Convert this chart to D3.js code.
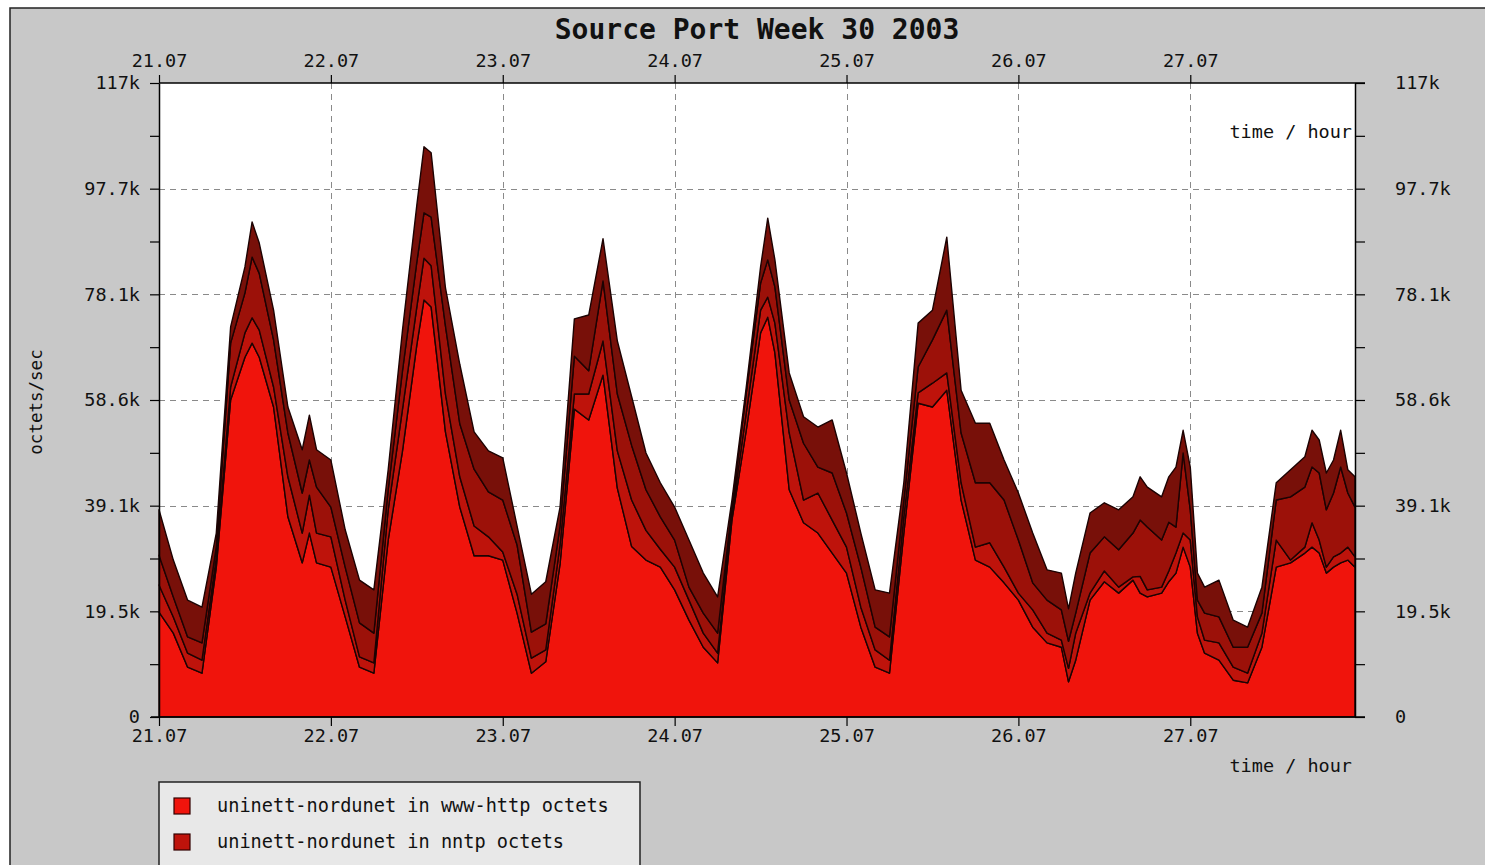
<!DOCTYPE html>
<html>
<head>
<meta charset="utf-8">
<script src="https://cdn.jsdelivr.net/npm/d3@7"></script>
<style>
html,body{margin:0;padding:0;background:#fff;}
svg{display:block;}
text{font-family:"DejaVu Sans Mono",monospace;fill:#111;}
</style>
</head>
<body>
<svg id="chart" width="1485" height="865"></svg>
<script>
// ---- data (octets/sec, in thousands) ----
const hours = [0,2,4,6,8,10,12,13,14,16,18,20,21,22,24,26,28,30,32,34,36,37,38,40,42,44,46,48,50,52,54,56,58,60,62,64,66,68,70,72,74,76,78,80,82,84,85,86,88,90,92,94,96,98,100,102,104,106,108,110,112,114,116,118,120,122,124,126,127,128,130,132,134,136,137,138,140,141,142,143,144,145,146,148,150,152,154,156,158,160,161,162,163,164,165,166,167];
const wwwHttp = [19.4,15.5,9.2,8.1,27.7,58.6,66.5,69.1,66.5,57.3,37.0,28.5,34.0,28.5,27.7,18.5,9.2,8.1,32.7,49.2,68.8,77.1,75.8,52.7,38.8,29.8,29.8,29.0,19.2,8.1,10.2,28.3,56.9,54.9,63.2,42.3,31.5,29.0,27.7,23.5,17.9,12.9,10.0,36.4,53.0,71.0,73.9,67.3,42.0,35.9,34.0,30.3,26.6,16.6,9.2,8.1,34.0,58.0,57.3,60.4,40.1,29.0,27.7,24.8,21.6,16.6,13.7,12.9,6.5,10.5,21.6,25.0,22.9,25.3,22.9,22.2,22.9,25.0,26.6,31.4,27.7,15.5,11.8,10.5,6.8,6.3,12.9,27.7,28.5,30.3,31.4,30.3,26.6,27.7,28.5,29.0,27.7];
const nntp = [5.0,3.0,2.6,2.4,1.8,2.4,4.5,4.7,5.0,3.7,7.4,5.5,7.0,5.5,5.6,3.1,1.9,1.9,5.6,7.7,7.0,7.7,7.6,7.0,5.6,5.5,3.5,1.5,3.5,2.8,2.2,3.5,2.8,4.8,6.3,6.9,8.6,5.5,3.3,4.2,3.7,2.6,1.8,1.1,3.2,4.2,3.7,5.5,10.5,4.2,7.4,6.1,4.8,3.7,3.2,2.4,3.0,1.9,4.4,3.2,3.2,2.4,4.5,2.9,1.3,3.2,1.8,1.3,2.5,5.0,1.3,2.0,1.1,0.6,3.1,1.3,1.1,2.0,3.7,2.6,5.0,3.0,2.4,3.2,2.4,1.8,2.6,5.0,0.5,1.1,4.5,2.4,1.1,1.9,1.8,2.4,1.9];
const thirdSeries = [5.5,3.7,3.0,3.2,2.0,8.1,7.4,11.2,10.5,8.7,8.1,7.4,6.5,8.5,5.5,6.1,6.3,5.5,3.7,7.1,8.3,8.4,9.0,12.6,9.8,10.5,8.3,9.6,9.1,4.8,4.8,3.5,7.0,4.3,11.1,10.5,10.1,7.5,6.0,5.0,2.4,3.7,3.7,1.3,3.7,5.0,6.9,6.7,6.1,10.5,4.8,8.7,6.3,7.4,4.2,4.3,3.0,4.8,8.0,11.6,9.2,11.9,11.1,12.4,9.8,5.0,6.1,5.6,5.0,3.7,7.4,6.3,6.9,8.1,10.4,11.6,8.7,9.0,4.8,14.8,5.6,3.1,5.0,4.8,3.7,4.8,3.7,7.4,11.7,11.1,10.3,12.4,10.6,11.8,15.9,10.0,9.2];
const fourthSeries = [8.4,6.8,6.8,6.6,2.5,3.0,4.8,6.5,5.6,5.5,4.8,8.0,8.3,6.9,8.7,6.9,7.9,8.0,3.7,7.5,10.5,12.2,11.9,7.0,11.0,6.9,7.6,7.8,3.5,7.0,7.8,3.5,6.9,10.3,7.8,9.8,9.0,6.8,6.3,6.1,8.7,7.4,6.7,1.3,1.1,3.0,7.7,5.0,5.0,4.9,7.4,9.8,7.4,6.3,6.9,8.1,3.3,8.1,5.5,13.5,7.9,11.0,11.0,7.4,8.7,9.2,5.6,6.8,6.0,7.4,7.4,6.3,7.4,6.7,8.0,7.4,8.0,8.4,11.1,4.2,7.9,5.0,4.8,6.8,5.0,3.7,4.8,3.2,5.0,5.6,6.8,6.1,6.8,6.1,6.8,4.3,5.6];
const seriesNames = ["uninett-nordunet in www-http octets","uninett-nordunet in nntp octets"];
const dayLabels = ["21.07","22.07","23.07","24.07","25.07","26.07","27.07"];
const yTickLabels = ["0","19.5k","39.1k","58.6k","78.1k","97.7k","117k"];
const yMax = 117.1875;
const colors = ["#f0140c","#be130b","#9c1109","#781009"];

const svg = d3.select("#chart");
const L = 159, R = 1355, T = 83, B = 717;

// background panel
svg.append("rect").attr("x",10).attr("y",8).attr("width",1490).attr("height",870)
  .attr("fill","#c8c8c8").attr("stroke","#222").attr("stroke-width",1.5);

// title
svg.append("text").attr("x",757).attr("y",39).attr("text-anchor","middle")
  .style("font-size","28px").style("font-weight","bold").text("Source Port Week 30 2003");

const x = d3.scaleLinear().domain([0, hours[hours.length-1]]).range([L, R]);
const y = d3.scaleLinear().domain([0, yMax]).range([B, T]);

// plot background
svg.append("rect").attr("x",L).attr("y",T).attr("width",R-L).attr("height",B-T).attr("fill","#fff");

const dayTicks = dayLabels.map((d,i)=>i*24);
const majorY = yTickLabels.map((d,i)=>i*yMax/6);
const allY = d3.range(13).map(i=>i*yMax/12);

// grid
const grid = svg.append("g").attr("stroke","#8a8a8a").attr("stroke-width",1).attr("stroke-dasharray","6,5");
grid.selectAll(".gx").data(dayTicks.slice(1)).join("line")
  .attr("x1",d=>Math.round(x(d))+0.5).attr("x2",d=>Math.round(x(d))+0.5).attr("y1",T).attr("y2",B);
grid.selectAll(".gy").data(majorY.slice(1,6)).join("line")
  .attr("y1",d=>Math.round(y(d))+0.5).attr("y2",d=>Math.round(y(d))+0.5).attr("x1",L).attr("x2",R);

// stacked areas
const keys = ["www","nntp","third","fourth"];
const rows = hours.map((h,i)=>({h, www:wwwHttp[i], nntp:nntp[i], third:thirdSeries[i], fourth:fourthSeries[i]}));
const stack = d3.stack().keys(keys)(rows);
const area = d3.area().x(d=>x(d.data.h)).y0(d=>y(d[0])).y1(d=>y(d[1]));
svg.append("g").selectAll("path").data(stack).join("path")
  .attr("d",area).attr("fill",(d,i)=>colors[i])
  .attr("stroke","#1c0303").attr("stroke-width",1.4).attr("stroke-linejoin","round");

// axes
const fmtY = v => { const i = majorY.findIndex(m=>Math.abs(m-v)<1e-6); return i>=0 ? yTickLabels[i] : ""; };
function styleAxis(g){
  g.selectAll(".domain").attr("stroke","#000").attr("stroke-width",1.5);
  g.selectAll(".tick line").attr("stroke","#000").attr("stroke-width",1.2);
  g.selectAll("text").style("font-family","'DejaVu Sans Mono',monospace").style("font-size","18.5px").attr("fill","#111");
}
const yl = svg.append("g").attr("transform",`translate(${L},0)`)
  .call(d3.axisLeft(y).tickValues(allY).tickSize(9).tickSizeOuter(0).tickPadding(10).tickFormat(fmtY));
styleAxis(yl);
const yr = svg.append("g").attr("transform",`translate(${R},0)`)
  .call(d3.axisRight(y).tickValues(allY).tickSize(10).tickSizeOuter(0).tickPadding(30).tickFormat(fmtY));
styleAxis(yr);
const xt = svg.append("g").attr("transform",`translate(0,${T})`)
  .call(d3.axisTop(x).tickValues(dayTicks).tickSize(8).tickSizeOuter(0).tickPadding(8).tickFormat((d,i)=>dayLabels[i]));
styleAxis(xt);
xt.select(".domain").attr("d",`M${L},0H${R+10}`);
const xb = svg.append("g").attr("transform",`translate(0,${B})`)
  .call(d3.axisBottom(x).tickValues(dayTicks).tickSize(9).tickSizeOuter(0).tickPadding(3).tickFormat((d,i)=>dayLabels[i]));
styleAxis(xb);
xb.select(".domain").attr("d",`M${L-8},0H${R+10}`);

// axis titles
svg.append("text").attr("x",1352).attr("y",138).attr("text-anchor","end").style("font-size","18.5px").text("time / hour");
svg.append("text").attr("x",1352).attr("y",772).attr("text-anchor","end").style("font-size","18.5px").text("time / hour");
svg.append("text").attr("transform","translate(42,402) rotate(-90)").attr("text-anchor","middle")
  .style("font-size","17.5px").text("octets/sec");

// legend
svg.append("rect").attr("x",159).attr("y",782).attr("width",481).attr("height",120)
  .attr("fill","#e8e8e8").attr("stroke","#222").attr("stroke-width",1.5);
const lg = svg.append("g").selectAll("g").data(seriesNames).join("g")
  .attr("transform",(d,i)=>`translate(174,${798+i*36})`);
lg.append("rect").attr("width",16).attr("height",16).attr("fill",(d,i)=>colors[i])
  .attr("stroke","#300").attr("stroke-width",1.2);
lg.append("text").attr("x",43).attr("y",14).style("font-size","18.6px").text(d=>d);
</script>
</body>
</html>
